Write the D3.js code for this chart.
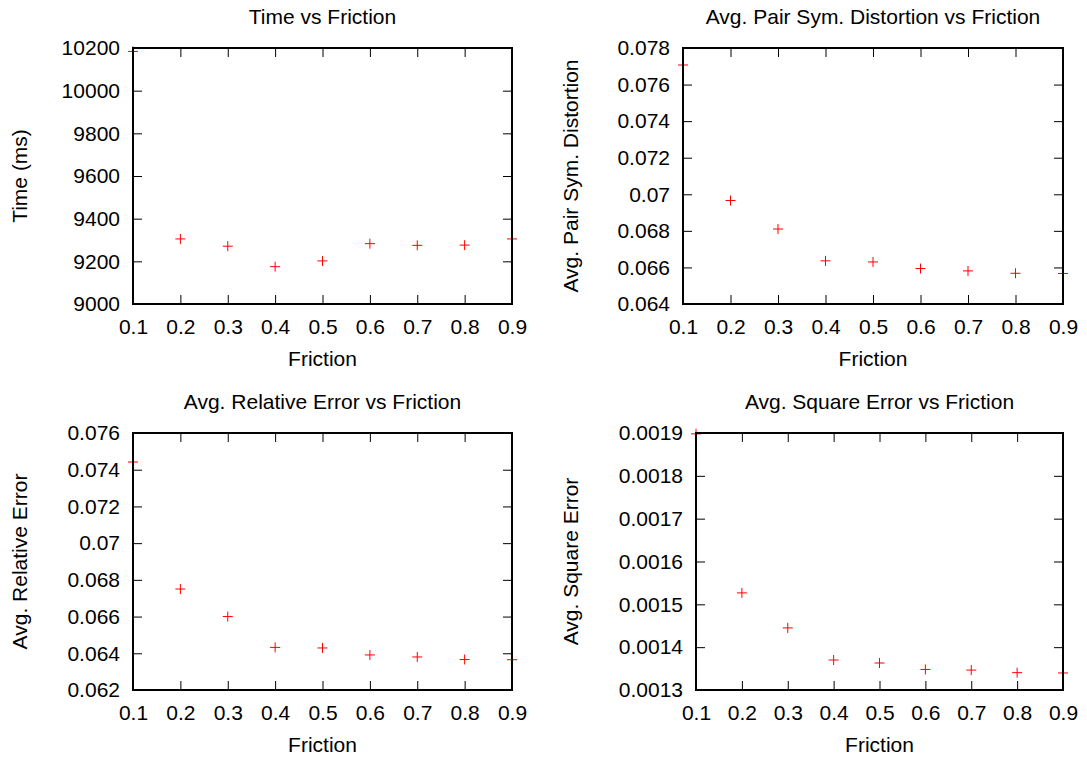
<!DOCTYPE html>
<html>
<head>
<meta charset="utf-8">
<script src="https://cdn.jsdelivr.net/npm/d3@7"></script>
<style>
  html, body { margin: 0; padding: 0; background: #fff; }
  svg { display: block; }
  text { font-family: "Liberation Sans", Arial, sans-serif; fill: #000; }
</style>
</head>
<body>
<svg id="chart" width="1087" height="758"></svg>
<script>
// ---- data ----
const friction = [0.1, 0.2, 0.3, 0.4, 0.5, 0.6, 0.7, 0.8, 0.9];
const xTicks = [0.1, 0.2, 0.3, 0.4, 0.5, 0.6, 0.7, 0.8, 0.9];

const timeMs = [10184, 9305, 9271, 9175, 9202, 9283, 9275, 9276, 9305];
const pairSymDistortion = [0.07707, 0.06966, 0.06810, 0.06636, 0.06630, 0.06594, 0.06581, 0.06568, 0.06567];
const relativeError = [0.07442, 0.06750, 0.06600, 0.06432, 0.06429, 0.06391, 0.06380, 0.06366, 0.06365];
const squareError = [0.001898, 0.0015267, 0.001445, 0.0013700, 0.0013630, 0.0013480, 0.0013465, 0.0013405, 0.0013398];

const timeTicks = [9000, 9200, 9400, 9600, 9800, 10000, 10200];
const distortionTicks = [0.064, 0.066, 0.068, 0.07, 0.072, 0.074, 0.076, 0.078];
const relErrorTicks = [0.062, 0.064, 0.066, 0.068, 0.07, 0.072, 0.074, 0.076];
const sqErrorTicks = [0.0013, 0.0014, 0.0015, 0.0016, 0.0017, 0.0018, 0.0019];

const titles = ["Time vs Friction", "Avg. Pair Sym. Distortion vs Friction",
                "Avg. Relative Error vs Friction", "Avg. Square Error vs Friction"];
const yLabels = ["Time (ms)", "Avg. Pair Sym. Distortion", "Avg. Relative Error", "Avg. Square Error"];
const xLabel = "Friction";

// ---- layout (positions kept separate from data) ----
const panels = [
  { values: timeMs, ticks: timeTicks, box: { l: 133, r: 512, t: 48, b: 304 }, ylx: 20 },
  { values: pairSymDistortion, ticks: distortionTicks, box: { l: 683, r: 1063, t: 48, b: 304 }, ylx: 571 },
  { values: relativeError, ticks: relErrorTicks, box: { l: 133, r: 512, t: 433, b: 690 }, ylx: 20 },
  { values: squareError, ticks: sqErrorTicks, box: { l: 696, r: 1063, t: 433, b: 690 }, ylx: 571 }
];

const FS = 21;
const svg = d3.select("#chart");
const fmt = d3.format("~g");

panels.forEach((p, i) => {
  const b = p.box;
  const x = d3.scaleLinear().domain([xTicks[0], xTicks[xTicks.length - 1]]).range([b.l, b.r]);
  const y = d3.scaleLinear().domain([p.ticks[0], p.ticks[p.ticks.length - 1]]).range([b.b, b.t]);
  const g = svg.append("g");

  // points (drawn before frame, so the frame covers edge strokes)
  g.append("g").selectAll("path")
    .data(friction.map((f, k) => [f, p.values[k]]))
    .join("path")
    .attr("transform", d => `translate(${x(d[0])},${y(d[1])})`)
    .attr("d", "M-5,0H5M0,-5V5")
    .attr("stroke", "#ff0000")
    .attr("stroke-width", 1)
    .attr("fill", "none");

  const styleAxis = sel => {
    sel.attr("font-family", null).attr("font-size", null);
    sel.select(".domain").remove();
    sel.selectAll(".tick line").attr("stroke", "#000").attr("stroke-width", 1);
    sel.selectAll(".tick text").style("font-size", FS + "px").attr("fill", "#000");
  };

  g.append("g").attr("transform", `translate(${b.l},0)`)
    .call(d3.axisLeft(y).tickValues(p.ticks).tickFormat(fmt).tickSize(-9).tickPadding(13))
    .call(styleAxis);
  g.append("g").attr("transform", `translate(${b.r},0)`)
    .call(d3.axisRight(y).tickValues(p.ticks).tickFormat("").tickSize(-9))
    .call(styleAxis);
  g.append("g").attr("transform", `translate(0,${b.b})`)
    .call(d3.axisBottom(x).tickValues(xTicks).tickFormat(fmt).tickSize(-9).tickPadding(15))
    .call(styleAxis);
  g.append("g").attr("transform", `translate(0,${b.t})`)
    .call(d3.axisTop(x).tickValues(xTicks).tickFormat("").tickSize(-9))
    .call(styleAxis);

  // frame
  g.append("rect")
    .attr("x", b.l).attr("y", b.t)
    .attr("width", b.r - b.l).attr("height", b.b - b.t)
    .attr("fill", "none").attr("stroke", "#000").attr("stroke-width", 2);

  // title
  g.append("text")
    .attr("x", (b.l + b.r) / 2).attr("y", b.t - 24)
    .attr("text-anchor", "middle")
    .style("font-size", FS + "px")
    .text(titles[i]);

  // x label
  g.append("text")
    .attr("x", (b.l + b.r) / 2).attr("y", b.b + 62)
    .attr("text-anchor", "middle")
    .style("font-size", FS + "px")
    .text(xLabel);

  // y label
  g.append("text")
    .attr("transform", `translate(${p.ylx},${(b.t + b.b) / 2}) rotate(-90)`)
    .attr("text-anchor", "middle")
    .attr("dy", "0.35em")
    .style("font-size", FS + "px")
    .text(yLabels[i]);
});
</script>
</body>
</html>
